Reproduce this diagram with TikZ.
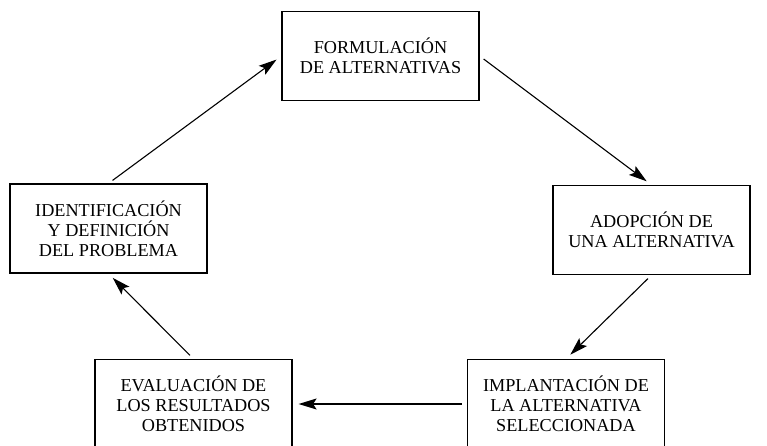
\documentclass[tikz,border=0pt]{standalone}
\usepackage{fontspec}
\setmainfont{Liberation Serif}
\usetikzlibrary{arrows.meta}
\tikzstyle{box}=[rectangle,draw,line width=1.2pt,minimum width=197pt,minimum height=89pt,inner sep=0pt,align=center,font=\fontsize{18.2}{19.8}\selectfont]
\tikzstyle{edge} = [draw,line width=1.1pt,-{Stealth[length=18pt,width=11pt,inset=3.5pt]},shorten <=5pt,shorten >=6pt]

\begin{document}
\begin{tikzpicture}[x=1pt,y=-1pt]

    \clip (0,0) rectangle (767,446);

    % the five steps of the cycle
    \foreach \pos/\name/\txt in {{(380.5,56)/form/{FORMULACIÓN\\DE ALTERNATIVAS}},
        {(651.5,230)/adop/{ADOPCIÓN DE\\UNA ALTERNATIVA}},
        {(566,404)/impl/{IMPLANTACIÓN DE\\LA ALTERNATIVA\\SELECCIONADA}},
        {(193.5,404)/eval/{EVALUACIÓN DE\\LOS RESULTADOS\\OBTENIDOS}},
        {(108.5,228.5)/ident/{IDENTIFICACIÓN\\Y DEFINICIÓN\\DEL PROBLEMA}}}
        \node[box] (\name) at \pos {\txt};

    % Connect the steps with arrows
    \foreach \source/\sa/\dest/\da in {ident/north/form/west, form/east/adop/north,
        adop/south/impl/north, impl/west/eval/east, eval/north/ident/south}
        \path[edge] (\source.\sa) -- (\dest.\da);

\end{tikzpicture}
\end{document}
